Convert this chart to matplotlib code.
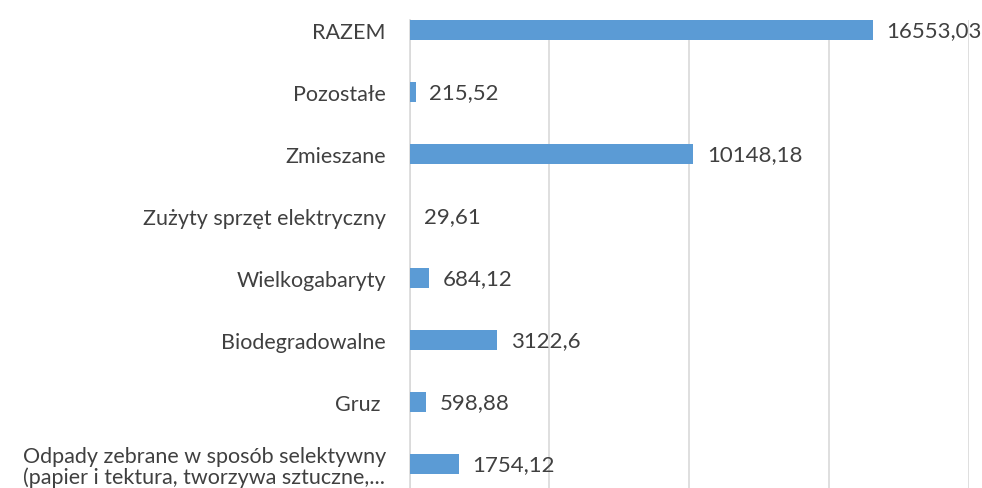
import matplotlib
matplotlib.use("Agg")
import matplotlib.pyplot as plt

# dane (od dołu do góry)
categories = [
    "Odpady zebrane w sposób selektywny\n(papier i tektura, tworzywa sztuczne,...",
    "Gruz ",
    "Biodegradowalne",
    "Wielkogabaryty",
    "Zużyty sprzęt elektryczny",
    "Zmieszane",
    "Pozostałe",
    "RAZEM",
]
values = [1754.12, 598.88, 3122.6, 684.12, 29.61, 10148.18, 215.52, 16553.03]

bar_color = "#5b9bd5"
grid_color = "#d9d9d9"
text_color = "#404040"

plt.rcParams["font.family"] = ["Lato", "DejaVu Sans"]

W, H = 982, 489
fig = plt.figure(figsize=(W / 100, H / 100), dpi=100)
# obszar wykresu jest przycięty u dołu jak w oryginale
left, right, top, bottom = 409.5, 969, 21, 489
ax = fig.add_axes([left / W, 1 - bottom / H, (right - left) / W, (bottom - top) / H])

bar_h = 0.32
ypos = list(range(len(categories)))
ax.barh(ypos, values, height=bar_h, color=bar_color, zorder=3)

for y, v in zip(ypos, values):
    ax.annotate(str(v).replace(".", ","), xy=(v, y), xytext=(10, 0),
                textcoords="offset points", va="center", ha="left",
                fontsize=16, color=text_color)

ax.set_xlim(0, 20000)
ax.set_ylim(-(bottom - 465) / 62.07, len(categories) - 1 + bar_h / 2)
ax.set_xticks([0, 5000, 10000, 15000, 20000])
ax.xaxis.grid(True, color=grid_color, linewidth=1.2, zorder=0)
ax.tick_params(axis="x", length=0, labelbottom=False)

ax.set_yticks(ypos)
ax.set_yticklabels(categories, fontsize=15.5, color=text_color,
                   multialignment="center", linespacing=1.05)
ax.tick_params(axis="y", length=0, pad=17)

for s in ["top", "right", "bottom"]:
    ax.spines[s].set_visible(False)
ax.spines["left"].set_color(grid_color)
ax.spines["left"].set_linewidth(1.2)

fig.savefig("out.png", dpi=100)
